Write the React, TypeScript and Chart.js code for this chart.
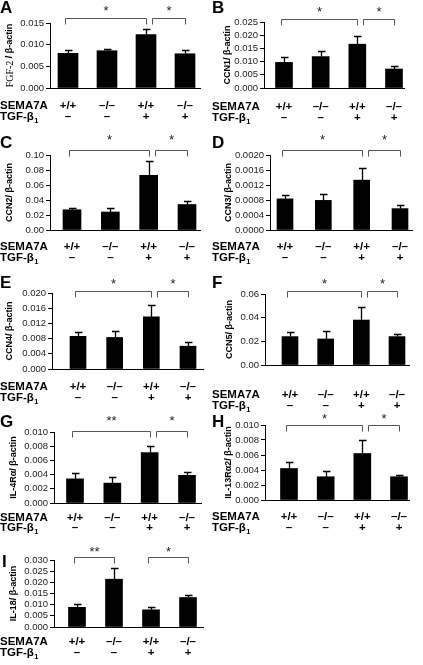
import React, { useEffect, useRef } from "react";
import { Chart, registerables } from "chart.js";

Chart.register(...registerables);

// ---------- data ----------
const genotypes = ["+/+", "–/–", "+/+", "–/–"];
const tgfTreatment = ["–", "–", "+", "+"];
const categoryIndex = [0, 1, 2, 3];

const fgf2Means = [0.008, 0.0086, 0.0123, 0.0079];
const fgf2Errors = [0.0007, 0.0005, 0.0014, 0.0008];
const fgf2Ticks = [0, 0.005, 0.01, 0.015];

const ccn1Means = [0.0097, 0.0119, 0.0166, 0.0072];
const ccn1Errors = [0.0019, 0.0021, 0.003, 0.001];
const ccn1Ticks = [0, 0.005, 0.01, 0.015, 0.02, 0.025];

const ccn2Means = [0.027, 0.024, 0.073, 0.034];
const ccn2Errors = [0.003, 0.006, 0.019, 0.005];
const ccn2Ticks = [0, 0.02, 0.04, 0.06, 0.08, 0.1];

const ccn3Means = [0.00083, 0.00079, 0.00133, 0.00057];
const ccn3Errors = [0.0001, 0.00017, 0.00032, 0.0001];
const ccn3Ticks = [0, 0.0004, 0.0008, 0.0012, 0.0016, 0.002];

const ccn4Means = [0.0086, 0.0083, 0.0137, 0.006];
const ccn4Errors = [0.0011, 0.0017, 0.0032, 0.001];
const ccn4Ticks = [0, 0.004, 0.008, 0.012, 0.016, 0.02];

const ccn5Means = [0.024, 0.022, 0.038, 0.024];
const ccn5Errors = [0.0036, 0.007, 0.0113, 0.002];
const ccn5Ticks = [0, 0.02, 0.04, 0.06];

const il4raMeans = [0.0034, 0.0028, 0.0071, 0.0039];
const il4raErrors = [0.0008, 0.0009, 0.0009, 0.0004];
const il4raTicks = [0, 0.002, 0.004, 0.006, 0.008, 0.01];

const il13ra2Means = [0.0042, 0.0031, 0.0062, 0.0031];
const il13ra2Errors = [0.0009, 0.0008, 0.0018, 0.0002];
const il13ra2Ticks = [0, 0.002, 0.004, 0.006, 0.008, 0.01];

const il18Means = [0.0088, 0.0214, 0.0077, 0.0132];
const il18Errors = [0.0015, 0.0049, 0.0011, 0.0012];
const il18Ticks = [0, 0.005, 0.01, 0.015, 0.02, 0.025, 0.03];

const bracketsDefault: [number, number, string][] = [
  [0, 2, "*"],
  [2, 3, "*"],
];
const bracketsG: [number, number, string][] = [
  [0, 2, "**"],
  [2, 3, "*"],
];
const bracketsI: [number, number, string][] = [
  [0, 1, "**"],
  [2, 3, "*"],
];

// ---------- layout ----------
type PanelCfg = {
  letter: string;
  title: string;
  serifPrefix?: string;
  means: number[];
  errors: number[];
  ticks: number[];
  decimals: number;
  brackets: [number, number, string][];
  left: number;
  top: number;
  width: number;
  height: number;
  axisX: number;
  axisRight: number;
  topY: number;
  zeroY: number;
  c0: number;
  c3: number;
  barWidth: number;
  letterX: number;
  letterY: number;
  titleX: number;
  row1: number;
  row2: number;
  bracketY: number;
  starY: number;
};

const SANS = '"Liberation Sans", Arial, Helvetica, sans-serif';
const SERIF = '"Liberation Serif", "Times New Roman", serif';

const panels: PanelCfg[] = [
  {
    letter: "A", title: " / β-actin", serifPrefix: "FGF-2",
    means: fgf2Means, errors: fgf2Errors, ticks: fgf2Ticks, decimals: 3, brackets: bracketsDefault,
    left: 0, top: 0, width: 212, height: 128,
    axisX: 50, axisRight: 200, topY: 23, zeroY: 88, c0: 68, c3: 185, barWidth: 20,
    letterX: 0, letterY: 13, titleX: 10, row1: 106, row2: 117, bracketY: 18, starY: 7,
  },
  {
    letter: "B", title: "CCN1/ β-actin",
    means: ccn1Means, errors: ccn1Errors, ticks: ccn1Ticks, decimals: 3, brackets: bracketsDefault,
    left: 212, top: 0, width: 211, height: 128,
    axisX: 264, axisRight: 404, topY: 22, zeroY: 88, c0: 284, c3: 394, barWidth: 17,
    letterX: 212, letterY: 13, titleX: 228, row1: 107, row2: 118, bracketY: 19, starY: 8,
  },
  {
    letter: "C", title: "CCN2/ β-actin",
    means: ccn2Means, errors: ccn2Errors, ticks: ccn2Ticks, decimals: 2, brackets: bracketsDefault,
    left: 0, top: 126, width: 212, height: 140,
    axisX: 50, axisRight: 200, topY: 155, zeroY: 230, c0: 72, c3: 187, barWidth: 18,
    letterX: 0, letterY: 148, titleX: 10, row1: 247, row2: 258, bracketY: 150, starY: 136,
  },
  {
    letter: "D", title: "CCN3/ β-actin",
    means: ccn3Means, errors: ccn3Errors, ticks: ccn3Ticks, decimals: 4, brackets: bracketsDefault,
    left: 212, top: 126, width: 211, height: 140,
    axisX: 270, axisRight: 412, topY: 155, zeroY: 230, c0: 285, c3: 400, barWidth: 16,
    letterX: 212, letterY: 148, titleX: 229, row1: 247, row2: 258, bracketY: 150, starY: 136,
  },
  {
    letter: "E", title: "CCN4/ β-actin",
    means: ccn4Means, errors: ccn4Errors, ticks: ccn4Ticks, decimals: 3, brackets: bracketsDefault,
    left: 0, top: 266, width: 212, height: 146,
    axisX: 52, axisRight: 203, topY: 293, zeroY: 369, c0: 78, c3: 188, barWidth: 16,
    letterX: 0, letterY: 288, titleX: 10, row1: 387, row2: 398, bracketY: 291, starY: 280,
  },
  {
    letter: "F", title: "CCN5/ β-actin",
    means: ccn5Means, errors: ccn5Errors, ticks: ccn5Ticks, decimals: 2, brackets: bracketsDefault,
    left: 212, top: 266, width: 211, height: 146,
    axisX: 265, axisRight: 409, topY: 294, zeroY: 365, c0: 290, c3: 397, barWidth: 16,
    letterX: 212, letterY: 288, titleX: 230, row1: 395, row2: 406, bracketY: 291, starY: 280,
  },
  {
    letter: "G", title: "IL-4Rα/ β-actin",
    means: il4raMeans, errors: il4raErrors, ticks: il4raTicks, decimals: 3, brackets: bracketsG,
    left: 0, top: 408, width: 212, height: 126,
    axisX: 54, axisRight: 201, topY: 432, zeroY: 503, c0: 75, c3: 187, barWidth: 17,
    letterX: 0, letterY: 427, titleX: 14, row1: 518, row2: 528, bracketY: 431, starY: 417,
  },
  {
    letter: "H", title: "IL-13Rα2/ β-actin",
    means: il13ra2Means, errors: il13ra2Errors, ticks: il13ra2Ticks, decimals: 3, brackets: bracketsDefault,
    left: 212, top: 408, width: 211, height: 126,
    axisX: 265, axisRight: 409, topY: 425, zeroY: 500, c0: 289, c3: 399, barWidth: 17,
    letterX: 212, letterY: 427, titleX: 229, row1: 517, row2: 528, bracketY: 425, starY: 415,
  },
  {
    letter: "I", title: "IL-18/ β-actin",
    means: il18Means, errors: il18Errors, ticks: il18Ticks, decimals: 3, brackets: bracketsI,
    left: 0, top: 534, width: 212, height: 131,
    axisX: 54, axisRight: 203, topY: 560, zeroY: 627, c0: 77, c3: 188, barWidth: 17,
    letterX: 2, letterY: 567, titleX: 14, row1: 642, row2: 653, bracketY: 557, starY: 548,
  },
];

function makeDecorPlugin(cfg: PanelCfg) {
  return {
    id: "decor" + cfg.letter,
    afterDatasetsDraw(chart: any) {
      const ctx: CanvasRenderingContext2D = chart.ctx;
      const xs = chart.scales.x;
      const ys = chart.scales.y;
      const L = cfg.left;
      const T = cfg.top;
      ctx.save();

      // error bars (upper)
      ctx.strokeStyle = "#000";
      ctx.lineWidth = 1.3;
      cfg.means.forEach((m, i) => {
        const x = Math.round(xs.getPixelForValue(categoryIndex[i])) + 0.5;
        const y0 = ys.getPixelForValue(m);
        const y1 = Math.round(ys.getPixelForValue(m + cfg.errors[i])) + 0.5;
        ctx.beginPath();
        ctx.moveTo(x, y0);
        ctx.lineTo(x, y1);
        ctx.moveTo(x - 3.5, y1);
        ctx.lineTo(x + 4, y1);
        ctx.stroke();
      });

      // significance brackets
      ctx.strokeStyle = "#555";
      ctx.lineWidth = 1;
      ctx.fillStyle = "#222";
      ctx.font = `13px ${SANS}`;
      ctx.textAlign = "center";
      ctx.textBaseline = "alphabetic";
      const by = cfg.bracketY - T + 0.5;
      cfg.brackets.forEach(([a, b, label]) => {
        const shared = cfg.brackets.some(([, e]) => e === a);
        const xa = Math.round(xs.getPixelForValue(categoryIndex[a]) + (shared ? 6 : -3)) + 0.5;
        const xb = Math.round(xs.getPixelForValue(categoryIndex[b])) + 0.5;
        ctx.beginPath();
        ctx.moveTo(xa, by + 6);
        ctx.lineTo(xa, by);
        ctx.lineTo(xb, by);
        ctx.lineTo(xb, by + 6);
        ctx.stroke();
        ctx.fillText(label, (xa + xb) / 2, cfg.starY - T + 8);
      });

      // panel letter
      ctx.fillStyle = "#000";
      ctx.textAlign = "left";
      ctx.font = `bold 17px ${SANS}`;
      ctx.fillText(cfg.letter, cfg.letterX - L, cfg.letterY - T);

      // axis title (rotated)
      ctx.save();
      ctx.translate(cfg.titleX - L, (cfg.topY + cfg.zeroY) / 2 - T);
      ctx.rotate(-Math.PI / 2);
      ctx.textBaseline = "middle";
      const titleFont = `bold 9px ${SANS}`;
      if (cfg.serifPrefix) {
        const serifFont = `10px ${SERIF}`;
        ctx.font = serifFont;
        const w1 = ctx.measureText(cfg.serifPrefix).width;
        ctx.font = titleFont;
        const w2 = ctx.measureText(cfg.title).width;
        const x = -(w1 + w2) / 2;
        ctx.textAlign = "left";
        ctx.font = serifFont;
        ctx.fillText(cfg.serifPrefix, x, 0);
        ctx.font = titleFont;
        ctx.fillText(cfg.title, x + w1, 0);
      } else {
        ctx.textAlign = "center";
        ctx.font = titleFont;
        ctx.fillText(cfg.title, 0, 0);
      }
      ctx.restore();

      // row labels
      ctx.textBaseline = "middle";
      ctx.textAlign = "left";
      ctx.font = `bold 11.5px ${SANS}`;
      ctx.fillText("SEMA7A", 0, cfg.row1 - T);
      ctx.fillText("TGF-β", 0, cfg.row2 - T);
      const wT = ctx.measureText("TGF-β").width;
      ctx.font = `bold 7.5px ${SANS}`;
      ctx.fillText("1", wT + 0.5, cfg.row2 - T + 3.5);

      ctx.textAlign = "center";
      ctx.font = `bold 11.5px ${SANS}`;
      genotypes.forEach((g, i) => {
        const x = xs.getPixelForValue(categoryIndex[i]);
        ctx.fillText(g, x, cfg.row1 - T);
        ctx.fillText(tgfTreatment[i], x, cfg.row2 - T);
      });

      ctx.restore();
    },
  };
}

function Panel({ cfg }: { cfg: PanelCfg }) {
  const ref = useRef<HTMLCanvasElement | null>(null);
  useEffect(() => {
    if (!ref.current) return;
    const spacing = (cfg.c3 - cfg.c0) / 3;
    const xMin = -(cfg.c0 - cfg.axisX) / spacing;
    const xMax = 3 + (cfg.axisRight - cfg.c3) / spacing;
    const yMax = cfg.ticks[cfg.ticks.length - 1];
    const chart = new Chart(ref.current, {
      type: "bar",
      data: {
        datasets: [
          {
            data: cfg.means.map((m, i) => ({ x: categoryIndex[i], y: m })),
            backgroundColor: "#000",
            borderWidth: 0,
            barThickness: cfg.barWidth,
          } as any,
        ],
      },
      options: {
        animation: false,
        responsive: false,
        maintainAspectRatio: false,
        devicePixelRatio: 1,
        events: [],
        layout: {
          padding: {
            left: 0,
            top: cfg.topY - cfg.top,
            right: cfg.left + cfg.width - cfg.axisRight,
            bottom: cfg.top + cfg.height - cfg.zeroY,
          },
        },
        plugins: {
          legend: { display: false },
          tooltip: { enabled: false },
          title: { display: false },
        },
        scales: {
          x: {
            type: "linear",
            min: xMin,
            max: xMax,
            offset: false,
            grid: { display: false, drawTicks: false },
            ticks: { display: false },
            border: { display: true, color: "#000", width: 1 },
            afterFit: (s: any) => {
              s.height = 0;
            },
          },
          y: {
            type: "linear",
            min: 0,
            max: yMax,
            afterBuildTicks: (s: any) => {
              s.ticks = cfg.ticks.map((v) => ({ value: v }));
            },
            ticks: {
              autoSkip: false,
              padding: 2,
              color: "#222",
              font: { family: SANS, size: 9.5 },
              callback: (v: any) => Number(v).toFixed(cfg.decimals),
            },
            grid: { drawOnChartArea: false, drawTicks: true, tickLength: 4, color: "#000", lineWidth: 1 },
            border: { display: true, color: "#000", width: 1 },
            afterFit: (s: any) => {
              s.width = cfg.axisX - cfg.left;
            },
          },
        },
      } as any,
      plugins: [makeDecorPlugin(cfg)],
    });
    return () => chart.destroy();
  }, [cfg]);
  return (
    <canvas
      ref={ref}
      width={cfg.width}
      height={cfg.height}
      style={{
        position: "absolute",
        left: cfg.left,
        top: cfg.top,
        width: cfg.width,
        height: cfg.height,
        display: "block",
      }}
    />
  );
}

export default function App() {
  useEffect(() => {
    document.body.style.margin = "0";
    document.body.style.background = "#fff";
  }, []);
  return (
    <div style={{ position: "absolute", left: 0, top: 0, width: 423, height: 665, background: "#fff", overflow: "hidden" }}>
      {panels.map((p) => (
        <Panel key={p.letter} cfg={p} />
      ))}
    </div>
  );
}
